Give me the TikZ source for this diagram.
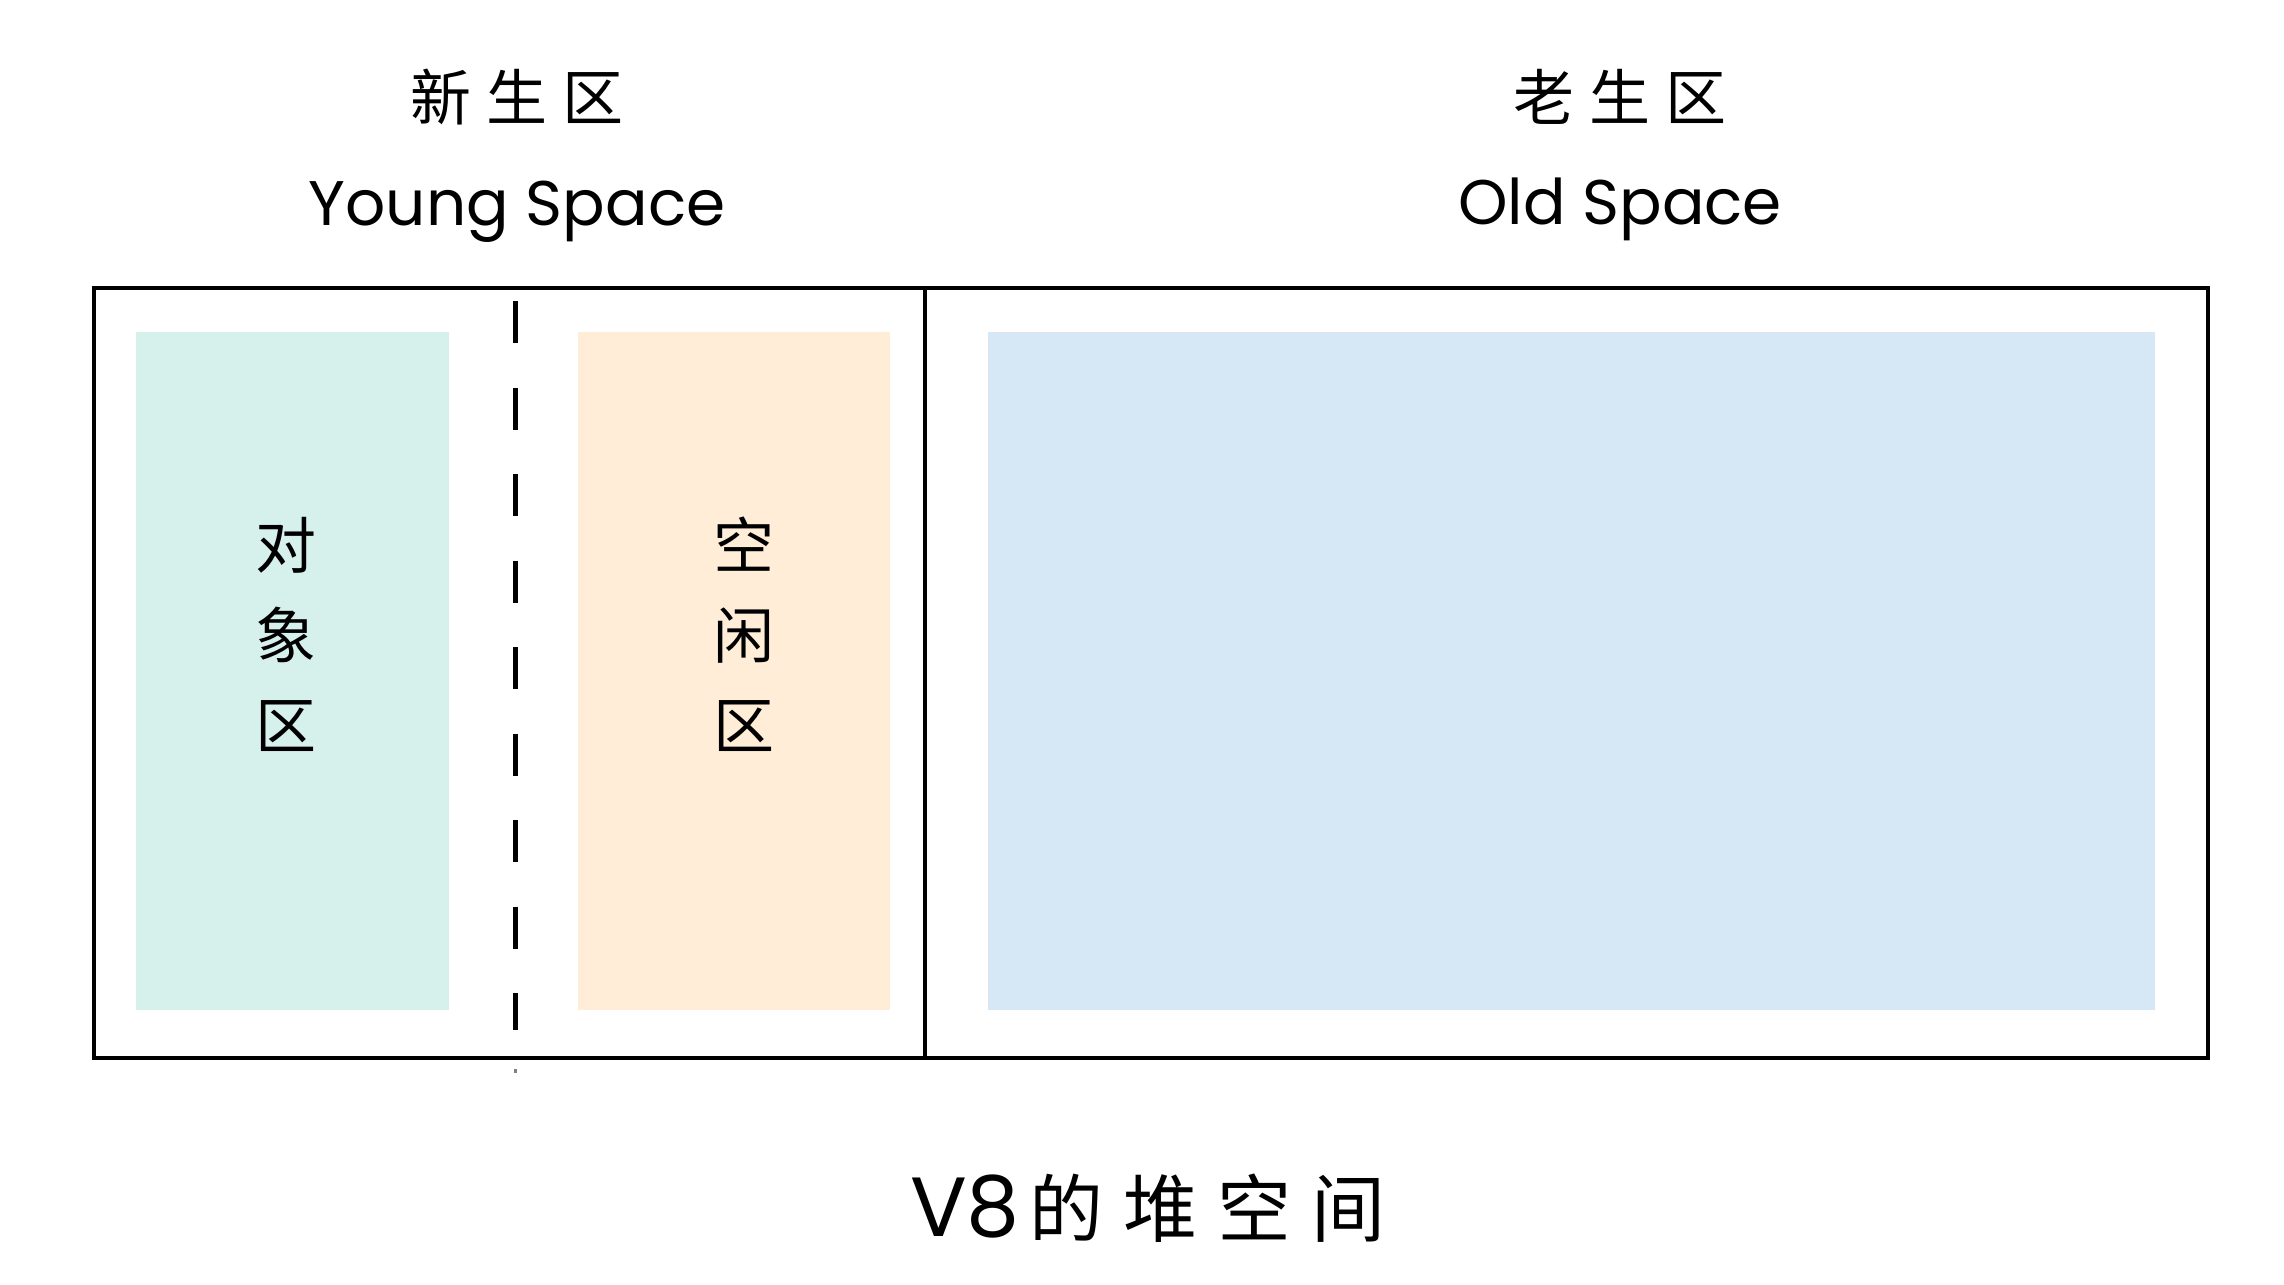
\documentclass[tikz,border=0pt]{standalone}
\usepackage{fontspec}
\setmainfont{Poppins}
\newfontfamily\cjk{Noto Sans CJK SC}
\definecolor{objgreen}{HTML}{D6F0EC}
\definecolor{freeorange}{HTML}{FFEDD8}
\definecolor{oldblue}{HTML}{D6E8F5}
\newcommand{\cs}{\hspace{15pt}}
\tikzset{
  area/.style={draw=none, inner sep=0pt, anchor=north west},
  heading/.style={inner sep=0pt, font=\cjk\fontsize{61}{62}\selectfont},
  latin/.style={inner sep=0pt, anchor=base, font=\fontsize{63}{68}\selectfont},
  vlabel/.style={inner sep=0pt, align=center, font=\cjk\fontsize{61}{90}\selectfont},
  frame/.style={draw=black, line width=3.5pt},
}
\begin{document}
\begin{tikzpicture}[x=1pt, y=-1pt]
\useasboundingbox (0,0) rectangle (2284,1285);
% headings
\node[heading] (yhz) at (517,97) {新\cs 生\cs 区};
\node[latin] (yen) at (517,225) {Young Space};
\node[heading] (ohz) at (1620,97) {老\cs 生\cs 区};
\node[latin] (oen) at (1620,224) {Old Space};
% coloured areas
\node[area, fill=objgreen, minimum width=313pt, minimum height=678pt] (obj) at (136,332) {};
\node[area, fill=freeorange, minimum width=312pt, minimum height=678pt] (free) at (578,332) {};
\node[area, fill=oldblue, minimum width=1167pt, minimum height=678pt] (old) at (988,332) {};
% frame
\coordinate (tl) at (94,288);
\coordinate (br) at (2208,1058);
\draw[frame] (tl) rectangle (br);
\coordinate (dt) at (925,288);
\coordinate (db) at (925,1058);
\draw[frame] (dt) -- (db);
% dashed divider
\coordinate (st) at (515,301);
\coordinate (sb) at (515,1030);
\draw[line width=5pt, dash pattern=on 42pt off 44.5pt] (st) -- (sb);
\coordinate (mt) at (515,1069);
\coordinate (mb) at (515,1073);
\draw[line width=3pt, gray] (mt) -- (mb);
% vertical labels
\node[vlabel] (objl) at (286,634) {对\\象\\区};
\node[vlabel] (freel) at (744,634) {空\\闲\\区};
% title
\node[inner sep=0pt] (title) at (1148,1208) {\fontsize{84}{88}\selectfont V8\hspace{10pt}\cjk\fontsize{74}{78}\selectfont 的\hspace{20pt}堆\hspace{20pt}空\hspace{20pt}间};
\end{tikzpicture}
\end{document}
